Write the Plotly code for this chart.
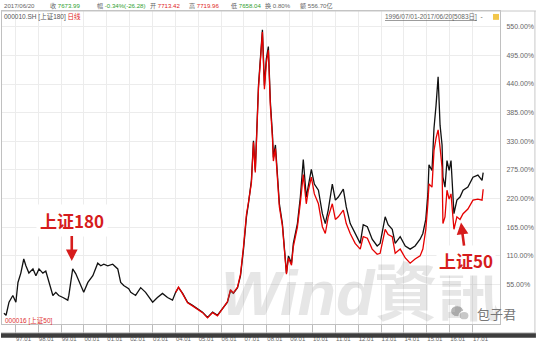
import plotly.graph_objects as go

# ---------------- data ----------------
sz180_dates = [
    "1996-07-01", "1996-08-04", "1996-09-20", "1996-11-20", "1997-01-08", "1997-02-10",
    "1997-03-28", "1997-05-14", "1997-06-17", "1997-08-04", "1997-10-08", "1997-11-24",
    "1998-01-12", "1998-03-15", "1998-05-01", "1998-06-20", "1998-08-22", "1998-10-08",
    "1998-11-24", "1999-01-30", "1999-04-17", "1999-05-04", "1999-06-20", "1999-07-05",
    "1999-08-22", "1999-11-10", "1999-12-28", "2000-03-03", "2000-05-22", "2000-08-08",
    "2000-09-26", "2000-11-13", "2001-01-15", "2001-04-04", "2001-06-24", "2001-08-10",
    "2001-09-27", "2001-12-16", "2002-01-18", "2002-04-05", "2002-06-25", "2002-09-12",
    "2003-01-03", "2003-03-20", "2003-06-09", "2003-08-28", "2003-11-16", "2004-01-05",
    "2004-02-20", "2004-04-26", "2004-07-14", "2004-10-01", "2004-12-20", "2005-03-10",
    "2005-05-29", "2005-08-18", "2005-11-04", "2006-01-23", "2006-04-12", "2006-05-30",
    "2006-07-16", "2006-09-20", "2006-11-07", "2006-12-25", "2007-02-10", "2007-03-13",
    "2007-04-30", "2007-06-02", "2007-07-01", "2007-08-21", "2007-10-23", "2007-11-24",
    "2007-12-24", "2008-01-26", "2008-02-27", "2008-04-01", "2008-04-15", "2008-05-18",
    "2008-06-20", "2008-07-20", "2008-09-06", "2008-10-08", "2008-11-10", "2008-12-12",
    "2009-01-30", "2009-02-28", "2009-05-04", "2009-06-20", "2009-08-06", "2009-09-23",
    "2009-10-26", "2009-12-13", "2010-01-30", "2010-04-05", "2010-06-07", "2010-07-24",
    "2010-09-09", "2010-11-13", "2011-01-01", "2011-02-17", "2011-05-08", "2011-06-24",
    "2011-08-26", "2011-11-13", "2012-02-02", "2012-03-21", "2012-05-26", "2012-08-11",
    "2012-10-30", "2012-12-16", "2013-03-07", "2013-04-23", "2013-06-28", "2013-08-14",
    "2013-11-02", "2014-01-22", "2014-04-10", "2014-06-28", "2014-09-16", "2014-10-30",
    "2014-12-16", "2015-01-18", "2015-02-05", "2015-03-25", "2015-04-26", "2015-05-29",
    "2015-07-01", "2015-08-01", "2015-09-02", "2015-09-16", "2015-10-19", "2015-11-20",
    "2015-12-24", "2016-01-23", "2016-02-25", "2016-03-10", "2016-04-26", "2016-06-15",
    "2016-08-03", "2016-10-19", "2017-01-08", "2017-03-28", "2017-06-02", "2017-06-20",
]
sz180_vals = [
    0, -4, 21, 34, 21, 59,
    77, 104, 91, 77, 85, 72,
    85, 77, 81, 59, 34, 40,
    34, 30, 25, 34, 77, 85,
    76, 53, 40, 59, 72, 96,
    91, 94, 91, 94, 85, 59,
    53, 47, 40, 34, 49, 40,
    21, 30, 38, 30, 25, 40,
    49, 38, 21, 15, 9, 2,
    -8, 2, -4, 9, 21, 43,
    38, 49, 72, 123, 185, 210,
    255, 331, 274, 437, 544, 437,
    488, 512, 406, 342, 299, 323,
    261, 210, 172, 123, 77, 110,
    96, 134, 172, 223, 295, 223,
    248, 276, 248, 236, 191, 172,
    198, 248, 217, 223, 238, 204,
    172, 153, 134, 170, 166, 142,
    129, 134, 185, 170, 161, 134,
    147, 129, 123, 129, 142, 153,
    180, 229, 285, 274, 355, 399,
    454, 361, 323, 261, 242, 293,
    274, 293, 229, 191, 217, 223,
    236, 242, 261, 265, 255, 270,
]

sz50_dates = [
    "2004-01-05", "2004-02-20", "2004-04-26", "2004-07-14", "2004-10-01", "2004-12-20",
    "2005-03-10", "2005-05-29", "2005-08-18", "2005-11-04", "2006-01-23", "2006-04-12",
    "2006-05-30", "2006-07-16", "2006-09-20", "2006-11-07", "2006-12-25", "2007-02-10",
    "2007-03-13", "2007-04-30", "2007-06-02", "2007-07-01", "2007-08-21", "2007-10-23",
    "2007-11-24", "2007-12-24", "2008-01-26", "2008-02-27", "2008-04-01", "2008-04-15",
    "2008-05-18", "2008-06-20", "2008-07-20", "2008-09-06", "2008-10-08", "2008-11-10",
    "2008-12-12", "2009-01-30", "2009-02-28", "2009-05-04", "2009-06-20", "2009-08-06",
    "2009-09-23", "2009-10-26", "2009-12-13", "2010-01-30", "2010-04-05", "2010-06-07",
    "2010-07-24", "2010-09-09", "2010-11-13", "2011-01-01", "2011-02-17", "2011-05-08",
    "2011-06-24", "2011-08-26", "2011-11-13", "2012-02-02", "2012-03-21", "2012-05-26",
    "2012-08-11", "2012-10-30", "2012-12-16", "2013-03-07", "2013-04-23", "2013-06-28",
    "2013-08-14", "2013-11-02", "2014-01-22", "2014-04-10", "2014-06-28", "2014-09-16",
    "2014-10-30", "2014-12-16", "2015-01-18", "2015-02-05", "2015-03-25", "2015-04-26",
    "2015-05-29", "2015-07-01", "2015-08-01", "2015-09-02", "2015-09-16", "2015-10-19",
    "2015-11-20", "2015-12-24", "2016-01-23", "2016-02-25", "2016-03-10", "2016-04-26",
    "2016-06-15", "2016-08-03", "2016-10-19", "2017-01-08", "2017-03-28", "2017-06-02",
    "2017-06-20",
]
sz50_vals = [
    40, 50, 37, 20, 14, 8,
    1, -9, 1, -5, 8, 22,
    45, 39, 50, 75, 128, 190,
    212, 250, 328, 270, 432, 540,
    430, 480, 505, 398, 335, 292,
    316, 255, 204, 168, 120, 75,
    106, 92, 128, 165, 212, 266,
    210, 236, 261, 229, 210, 166,
    153, 185, 210, 180, 185, 198,
    172, 153, 134, 123, 147, 144,
    123, 113, 115, 161, 151, 147,
    115, 123, 106, 96, 104, 110,
    123, 161, 210, 248, 242, 312,
    336, 352, 318, 280, 172, 185,
    236, 219, 229, 185, 161, 185,
    180, 191, 200, 217, 219, 217,
    238,
]

y_tick_vals = [55, 110, 165, 220, 275, 330, 385, 440, 495, 550]
y_tick_text = [f"{v:.2f}%" for v in y_tick_vals]
x_tick_vals = [f"{yr}-01-01" for yr in range(1997, 2018)]

# ---------------- geometry helpers ----------------
W, H = 536, 343
ML, MR, MT, MB = 1, 36, 11, 14
PW, PH = W - ML - MR, H - MT - MB


def px(x):
    return (x - ML) / PW


def py(y):
    return (H - MB - y) / PH


CJK = "Noto Sans CJK SC"
LAT = "Liberation Sans, Noto Sans CJK SC"
GREEN = "#2f9e2f"
RED = "#e01e1e"
GREY = "#666666"

fig = go.Figure()
fig.add_trace(go.Scatter(x=sz180_dates, y=sz180_vals, mode="lines",
                         line=dict(color="#111111", width=1.3), name="上证180"))
fig.add_trace(go.Scatter(x=sz50_dates, y=sz50_vals, mode="lines",
                         line=dict(color="#e60000", width=1.3), name="上证50"))

ann = []
# header row 1
hdr = [
    (1, "2017/06/20", GREY, None),
    (47, "收 ", GREY, ("7673.99", GREEN)),
    (94, "幅 ", GREY, ("-0.34%(-26.28)", GREEN)),
    (147, "开 ", GREY, ("7713.42", RED)),
    (186, "高 ", GREY, ("7719.96", RED)),
    (228, "低 ", GREY, ("7658.04", GREEN)),
    (263, "换 ", GREY, ("0.80%", GREY)),
    (298, "额 ", GREY, ("556.70亿", GREY)),
]
for x0, lab, col, val in hdr:
    txt = lab if val is None else f"{lab}<span style='color:{val[1]}'>{val[0]}</span>"
    ann.append(dict(x=px(x0), y=py(5.5), xref="paper", yref="paper", xanchor="left",
                    yanchor="middle", text=txt, showarrow=False,
                    font=dict(family=LAT, size=6.1, color=col)))
# header row 2
ann.append(dict(x=px(1), y=py(17), xref="paper", yref="paper", xanchor="left", yanchor="middle",
                text="000010.SH [上证180] <span style='color:#e01e1e'>日线</span>", showarrow=False,
                font=dict(family=LAT, size=6.5, color="#555555")))
ann.append(dict(x=px(485), y=py(17), xref="paper", yref="paper", xanchor="right", yanchor="middle",
                text="<u>1996/07/01-2017/06/20[5083日]</u>  -", showarrow=False,
                font=dict(family=LAT, size=6.5, color="#666666")))
# bottom-left label
ann.append(dict(x=px(2), y=py(325), xref="paper", yref="paper", xanchor="left", yanchor="middle",
                text="000016 [上证50]", showarrow=False,
                font=dict(family=LAT, size=6.5, color="#e03030")))
# watermark
ann.append(dict(x=px(360), y=py(297), xref="paper", yref="paper", xanchor="center", yanchor="middle",
                text="<b><i>Wind</i>資訊</b>", showarrow=False,
                font=dict(family="Liberation Sans, Noto Sans CJK TC", size=63,
                          color="rgba(120,120,120,0.19)")))
# callouts
ann.append(dict(x="1999-06-20", y=100, xref="x", yref="y", ax=0, ay=-41,
                text="<b>上证180</b>", showarrow=True, arrowhead=2, arrowsize=0.9,
                arrowwidth=2.6, arrowcolor="#d61c1c", bgcolor="white", borderpad=3,
                font=dict(family=CJK, size=17, color="#d61c1c")))
ann.append(dict(x="2016-07-01", y=174, xref="x", yref="y", ax=5, ay=38,
                text="<b>上证50</b>", showarrow=True, arrowhead=2, arrowsize=0.9,
                arrowwidth=2.6, arrowcolor="#d61c1c", bgcolor="white", borderpad=2,
                font=dict(family=CJK, size=17, color="#d61c1c")))
# WeChat signature
ann.append(dict(x=px(496), y=py(318), xref="paper", yref="paper", xanchor="center", yanchor="middle",
                text="包子君", showarrow=False, font=dict(family=CJK, size=13, color="#777777")))

shapes = [
    dict(type="line", xref="paper", yref="paper", x0=px(0), x1=px(536), y0=py(11), y1=py(11),
         line=dict(color="#c8c8c8", width=1)),
    dict(type="line", xref="paper", yref="paper", x0=px(535), x1=px(535), y0=py(11), y1=py(338),
         line=dict(color="#c8c8c8", width=1)),
    dict(type="line", xref="paper", yref="paper", x0=px(0), x1=px(536), y0=py(338), y1=py(338),
         line=dict(color="#bbbbbb", width=1)),
    dict(type="rect", xref="paper", yref="paper", x0=px(0), x1=px(536), y0=py(338.5), y1=py(343),
         fillcolor="#3d3d3d", line=dict(width=0)),
    dict(type="rect", xref="paper", yref="paper", x0=px(493), x1=px(499), y0=py(14), y1=py(20),
         fillcolor="#f2c64a", line=dict(width=0)),
    dict(type="circle", xref="paper", yref="paper", xsizemode="pixel", ysizemode="pixel",
         xanchor=px(457), yanchor=py(316), x0=-6.5, x1=6.5, y0=-5.5, y1=5.5,
         fillcolor="#b5b5b5", line=dict(color="white", width=1)),
    dict(type="circle", xref="paper", yref="paper", xsizemode="pixel", ysizemode="pixel",
         xanchor=px(464), yanchor=py(320.5), x0=-5, x1=5, y0=-4.3, y1=4.3,
         fillcolor="#c8c8c8", line=dict(color="white", width=1.2)),
]

fig.update_layout(
    width=W, height=H,
    margin=dict(l=ML, r=MR, t=MT, b=MB, pad=0),
    paper_bgcolor="white", plot_bgcolor="white",
    showlegend=False,
    font=dict(family=CJK, color=GREY),
    annotations=ann,
    shapes=shapes,
    xaxis=dict(
        type="date", range=["1996-05-31", "2018-03-16"],
        tickvals=x_tick_vals, tickformat="%y.%m", ticklabelshift=8,
        tickfont=dict(family="Liberation Sans", size=6, color="#666666"),
        ticks="outside", ticklen=9, tickcolor="#bbbbbb", tickwidth=1,
        showgrid=True, gridcolor="#ececec", gridwidth=1,
        showline=True, linecolor="#c0c0c0", linewidth=1, mirror=True, zeroline=False,
        fixedrange=True,
    ),
    yaxis=dict(
        side="right", range=[-20.8, 580.2],
        tickvals=y_tick_vals, ticktext=y_tick_text,
        tickfont=dict(family="Liberation Sans", size=7, color="#666666"),
        ticks="", ticklabelstandoff=4,
        showgrid=True, gridcolor="#ececec", gridwidth=1,
        showline=True, linecolor="#c0c0c0", linewidth=1, mirror=True, zeroline=False,
        fixedrange=True,
    ),
)

fig.write_html("out.html")
